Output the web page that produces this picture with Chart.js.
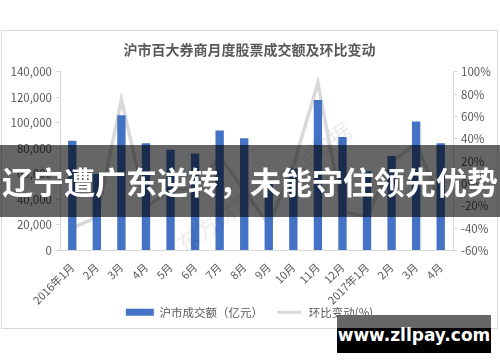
<!DOCTYPE html>
<html>
<head>
<meta charset="utf-8">
<script src="https://cdn.jsdelivr.net/npm/chart.js@4/dist/chart.umd.min.js"></script>
<style>
  body { margin: 0; width: 500px; height: 362px; background: #fff; position: relative; overflow: hidden;
         font-family: "Noto Sans CJK SC", "Noto Sans", sans-serif; }
  #frame { position: absolute; left: 1px; top: 30px; width: 497px; height: 299px;
           border: 1px solid #d9d9d9; box-sizing: border-box; }
  #frame canvas { display: block; }
  #stamp { position: absolute; left: 160px; top: 170px; color: rgba(0,0,0,0.08);
           font-size: 22px; transform: rotate(-35deg); white-space: nowrap; }
  #banner { position: absolute; left: 0; top: 145px; width: 500px; height: 72px;
            background: rgba(0,0,0,0.6); color: #fff; font-weight: bold; font-size: 31px;
            line-height: 72px; text-align: center; white-space: nowrap; letter-spacing: 0; }
  #site { position: absolute; left: 337px; top: 315px; width: 154px; height: 38px;
          background: #000; color: #fff; font-family: "DejaVu Sans", sans-serif; font-weight: bold;
          font-size: 17px; line-height: 40px; text-align: center; }
  #site .top { position: absolute; left: 0; top: 0; width: 100%; height: 13px; background: #666; }
  #site span { position: relative; }
</style>
</head>
<body>
<div id="frame"><canvas id="chart" width="495" height="297"></canvas></div>
<div id="stamp">东方财富 Choice数据</div>
<div id="banner">辽宁遭广东逆转，未能守住领先优势</div>
<div id="site"><div class="top"></div><span>www.zllpay.com</span></div>
<script>
const months = ['2016年1月', '2月', '3月', '4月', '5月', '6月', '7月', '8月', '9月', '10月', '11月', '12月',
                '2017年1月', '2月', '3月', '4月'];
const volume = [86000, 60000, 106000, 84000, 79000, 76000, 94000, 88000, 55000, 64000, 118000, 89000,
                62000, 74000, 101000, 84000];
const momChange = [-40, -30, 75, -21, -6, -4, 24, -6, -37, 16, 90, -25, -30, 19, 36, -17];
const leftTicks = [0, 20000, 40000, 60000, 80000, 100000, 120000, 140000];
const rightTicks = [-60, -40, -20, 0, 20, 40, 60, 80, 100];

Chart.defaults.font.family = '"Noto Sans CJK SC", "Noto Sans", sans-serif';
Chart.defaults.color = '#595959';

// rotated month labels run past the x scale box, so don't clip them
const noLabelClip = {
  id: 'noLabelClip',
  afterLayout(chart) {
    chart.scales.x._computeLabelArea = function() { return undefined; };
  }
};

document.addEventListener('DOMContentLoaded', function() {
  const ctx = document.getElementById('chart').getContext('2d');
  new Chart(ctx, {
    type: 'bar',
    data: {
      labels: months,
      datasets: [{
        label: '沪市成交额（亿元）',
        data: volume,
        backgroundColor: '#4472c4',
        barPercentage: 1,
        categoryPercentage: 0.34,
        yAxisID: 'y',
        order: 1
      }, {
        type: 'line',
        label: '环比变动(%)',
        data: momChange,
        borderColor: '#d9d9d9',
        backgroundColor: '#d9d9d9',
        borderWidth: 3.5,
        pointRadius: 0,
        tension: 0,
        yAxisID: 'y1',
        order: 2
      }]
    },
    plugins: [noLabelClip],
    options: {
      responsive: false,
      animation: false,
      layout: { padding: 0 },
      plugins: {
        title: {
          display: true,
          text: '沪市百大券商月度股票成交额及环比变动',
          color: '#595959',
          font: { size: 14, weight: 'bold' },
          padding: { top: 10, bottom: 14 }
        },
        legend: {
          position: 'bottom',
          labels: {
            boxWidth: 28,
            boxHeight: 7,
            padding: 12,
            font: { size: 11.5 },
            color: '#595959',
            generateLabels: function(chart) {
              const items = Chart.defaults.plugins.legend.labels.generateLabels(chart);
              items[0].lineWidth = 0;
              items[1].fillStyle = '#d9d9d9';
              items[1].strokeStyle = '#ffffff';
              items[1].lineWidth = 4;
              return items;
            }
          }
        },
        tooltip: { enabled: false }
      },
      scales: {
        x: {
          grid: { display: false },
          border: { color: '#d9d9d9' },
          afterFit: function(scale) { scale.height = 44; },
          ticks: { font: { size: 11 }, minRotation: 45, maxRotation: 45, autoSkip: false, padding: 2 }
        },
        y: {
          position: 'left',
          min: 0, max: 140000,
          afterBuildTicks: function(scale) { scale.ticks = leftTicks.map(v => ({ value: v })); },
          afterFit: function(scale) { scale.width = 58; },
          grid: { drawOnChartArea: false, tickLength: 4, color: '#d9d9d9' },
          border: { color: '#d9d9d9' },
          ticks: { font: { size: 11.5 }, padding: 4,
                   callback: v => v.toLocaleString('en-US') }
        },
        y1: {
          position: 'right',
          min: -60, max: 100,
          afterBuildTicks: function(scale) { scale.ticks = rightTicks.map(v => ({ value: v })); },
          afterFit: function(scale) { scale.width = 44; },
          grid: { drawOnChartArea: false, tickLength: 4, color: '#d9d9d9' },
          border: { color: '#d9d9d9' },
          ticks: { font: { size: 11.5 }, padding: 4, callback: v => v + '%' }
        }
      }
    }
  });
});
</script>
</body>
</html>
